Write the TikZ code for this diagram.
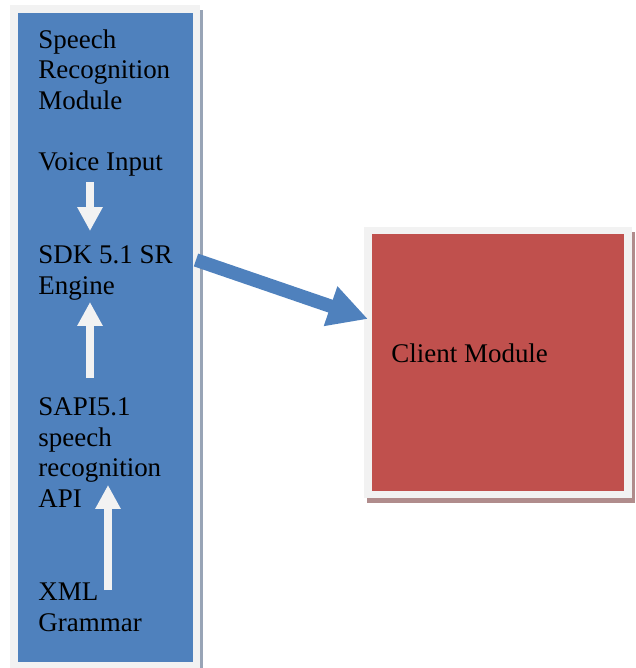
\documentclass[tikz,border=0pt]{standalone}
\usepackage{fontspec}
\setmainfont{Liberation Serif}
\usetikzlibrary{arrows.meta}
\definecolor{srblue}{HTML}{4F81BD}
\definecolor{clred}{HTML}{C0504D}
\definecolor{panel}{HTML}{F2F2F2}
\definecolor{blueshade}{HTML}{98A4B6}
\definecolor{redshade}{HTML}{B08C8C}
\begin{document}
\begin{tikzpicture}[x=0.46pt,y=-0.46pt,
  txt/.style={anchor=base west, inner sep=0pt, align=left,
              font=\fontsize{12.4}{14}\selectfont},
  flow/.style={draw=panel, line width=3.7pt,
               -{Triangle[length=11pt,width=11pt]}},
  link/.style={draw=srblue, line width=6.2pt,
               -{Triangle[length=18.2pt,width=18pt]}}]

\useasboundingbox (0,0) rectangle (636,668);
\fill[white] (0,0) rectangle (636,668);

% speech recognition module panel
\fill[blueshade] (14,10) rectangle (203,680);
\fill[panel] (10,5) rectangle (200,680);
\fill[srblue] (18,13) rectangle (193,662);

% client module panel
\fill[redshade] (367,232) rectangle (635,503);
\fill[panel] (364,227) rectangle (632,498);
\fill[clred] (372,234) rectangle (624,491);

% labels (anchored at the baseline of their last line)
\node[txt] (title)   at (38,109) {Speech\\Recognition\\Module};
\node[txt] (voice)   at (38,170) {Voice Input};
\node[txt] (engine)  at (38,294) {SDK 5.1 SR\\Engine};
\node[txt] (sapi)    at (38,507) {SAPI5.1\\speech\\recognition\\API};
\node[txt] (grammar) at (38,631) {XML\\Grammar};
\node[txt] (client)  at (391,362) {Client Module};

% flow arrows inside the module
\coordinate (v0) at (90,182);  \coordinate (v1) at (90,231);
\coordinate (s0) at (90,378);  \coordinate (s1) at (90,302);
\coordinate (g0) at (108,590); \coordinate (g1) at (108,485);
\draw[flow] (v0) -- (v1);
\draw[flow] (s0) -- (s1);
\draw[flow] (g0) -- (g1);

% engine to client
\coordinate (e0) at (196,260);
\coordinate (c0) at (368,319);
\draw[link] (e0) -- (c0);
\end{tikzpicture}
\end{document}
